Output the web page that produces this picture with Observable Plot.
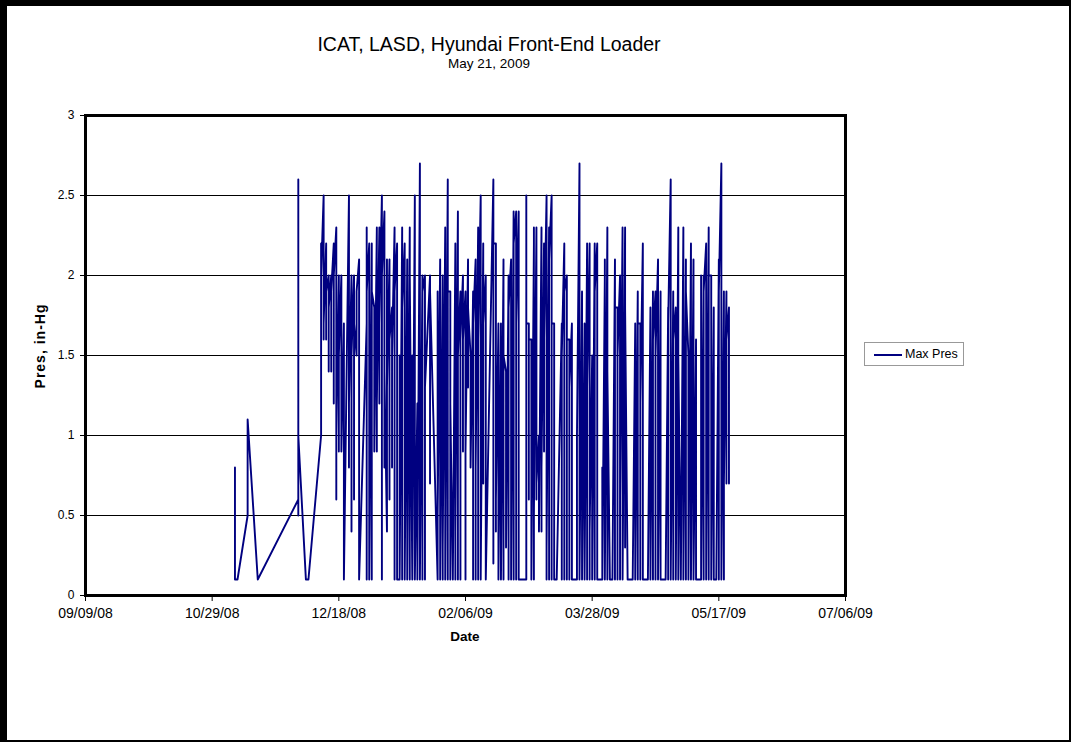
<!DOCTYPE html>
<html><head><meta charset="utf-8">
<script src="https://cdn.jsdelivr.net/npm/d3@7"></script>
<script src="https://cdn.jsdelivr.net/npm/@observablehq/plot@0.6"></script>
<style>
body{margin:0;background:#fff;font-family:"Liberation Sans",Arial,sans-serif;color:#000;}
#wrap{position:relative;width:1073px;height:742px;overflow:hidden;}
#border{position:absolute;left:0;top:0;width:1071px;height:742px;box-sizing:border-box;border-top:6px solid #000;border-left:7px solid #000;border-right:2px solid #000;border-bottom:2px solid #000;pointer-events:none;}
#chart{position:absolute;left:0;top:0;}
.t{position:absolute;white-space:nowrap;}
#title{left:0;width:978px;top:33px;text-align:center;font-size:19.5px;}
#sub{left:0;width:978px;top:56px;text-align:center;font-size:13.5px;}
#xlab{left:365px;width:200px;top:629px;text-align:center;font-size:13.5px;font-weight:bold;}
#ylab{left:40px;top:346px;font-size:14px;font-weight:bold;letter-spacing:1px;transform:translate(-50%,-50%) rotate(-90deg);}
#legend{position:absolute;left:864px;top:342px;width:98px;height:22px;border:1px solid #999;background:#fff;}
#legend .ln{position:absolute;left:9px;top:11px;width:28px;height:0;border-top:2px solid #000080;}
#legend .lt{position:absolute;left:40px;top:4px;font-size:12.5px;}
</style>
</head><body>
<div id="wrap">
  <div id="chart"></div>
  <div class="t" id="title">ICAT, LASD, Hyundai Front-End Loader</div>
  <div class="t" id="sub">May 21, 2009</div>
  <div class="t" id="xlab">Date</div>
  <div class="t" id="ylab">Pres, in-Hg</div>
  <div id="legend"><div class="ln"></div><div class="lt">Max Pres</div></div>
  <div id="border"></div>
</div>
<script>
// Readings per date (several readings a day, in order), in-Hg
const nov08 = [
  ["11/07/08",[0.2,0.8,0.1]], ["11/08/08",[0.1]], ["11/12/08",[0.5,1.1]], ["11/16/08",[0.1]]
];
const dec08 = [
  ["12/02/08",[0.6,2.6,0.5,2.2,1.0]], ["12/05/08",[0.1]], ["12/06/08",[0.1]],
  ["12/11/08",[1.0,2.2,1.3,2.0]], ["12/12/08",[2.5,1.6,2.2,1.7]], ["12/13/08",[2.2,1.6,1.9]],
  ["12/14/08",[2.0,1.4,1.8]], ["12/15/08",[2.0,1.4,1.9]], ["12/16/08",[2.2,1.2,2.0]],
  ["12/17/08",[2.3,0.6,2.0,1.0]], ["12/18/08",[2.0,0.9,1.5]], ["12/19/08",[2.0,1.1,1.7,0.9]],
  ["12/20/08",[1.7,0.8,0.1]], ["12/22/08",[2.5,0.8,2.0,1.2]], ["12/23/08",[2.0,0.4,1.8,1.5]],
  ["12/24/08",[2.0,0.6,1.7]], ["12/25/08",[1.5,1.9]], ["12/26/08",[2.1,0.1]],
  ["12/29/08",[1.7,2.3,0.1,1.9]], ["12/30/08",[2.2,1.3,2.1,0.1]], ["12/31/08",[2.2,0.1,1.9]]
];
const jan09 = [
  ["01/01/09",[1.8,0.9]], ["01/02/09",[2.3,0.9,2.3,1.2]], ["01/03/09",[2.3,1.2,2.2,1.7]],
  ["01/04/09",[2.5,0.1,2.0]], ["01/05/09",[2.4,0.8,2.1,1.4]], ["01/06/09",[0.4,2.1,1.3]],
  ["01/07/09",[2.1,0.6,1.6]], ["01/08/09",[1.8,0.8,1.5]], ["01/09/09",[2.3,0.1,1.9]],
  ["01/10/09",[2.2,0.1,2.0,0.1]], ["01/11/09",[0.1,1.5,0.1]], ["01/12/09",[2.3,0.1,1.8]],
  ["01/13/09",[2.2,0.1,2.0,0.1]], ["01/14/09",[2.1,0.1,1.7,0.1]], ["01/15/09",[2.3,0.1,2.0]],
  ["01/16/09",[0.1,1.5,0.1]], ["01/17/09",[2.5,0.1,2.3,0.1]], ["01/18/09",[1.2,0.1]],
  ["01/19/09",[2.7,0.1,2.0,0.1]], ["01/20/09",[2.0,0.1,1.9]], ["01/21/09",[2.0,0.1,1.3]],
  ["01/23/09",[2.0,0.7,1.9]], ["01/26/09",[0.1,1.9,0.1,1.9,0.5]], ["01/27/09",[2.1,0.1,1.9,0.1]],
  ["01/28/09",[2.0,0.1,1.9,0.3]], ["01/29/09",[2.3,0.1,2.0,0.1]], ["01/30/09",[2.6,0.1,1.9]],
  ["01/31/09",[1.9,0.1,1.2]]
];
const feb09 = [
  ["02/01/09",[0.1]], ["02/02/09",[2.2,0.1,1.9,0.4]], ["02/03/09",[2.4,0.1,1.5]],
  ["02/04/09",[1.9,0.1,1.6]], ["02/05/09",[2.0,0.9,1.6]], ["02/06/09",[1.9,0.1,1.7,0.9]],
  ["02/07/09",[2.1,1.3,1.8]], ["02/08/09",[1.5,0.8]], ["02/09/09",[1.9,0.1,1.7]],
  ["02/10/09",[2.1,0.1,1.9,0.8]], ["02/11/09",[2.3,0.1,1.6]], ["02/12/09",[2.5,0.1,2.0,0.1]],
  ["02/13/09",[2.2,0.7,1.7]], ["02/14/09",[2.0,0.1]], ["02/17/09",[2.6,0.7,1.6,0.2,2.2]],
  ["02/18/09",[2.2,0.4,2.1,0.6]], ["02/19/09",[1.7,0.1,1.6,0.1]], ["02/20/09",[1.7,0.1]],
  ["02/21/09",[2.1,0.1,1.5]], ["02/22/09",[1.4,0.3]], ["02/23/09",[2.0,0.1,1.8]],
  ["02/24/09",[2.1,0.1,1.9,0.1]], ["02/25/09",[2.4,0.1,2.2]], ["02/26/09",[2.4,0.1,1.7]],
  ["02/27/09",[2.4,0.1,0.1]], ["02/28/09",[0.1]]
];
const mar09 = [
  ["03/01/09",[0.1]], ["03/02/09",[0.1,2.5,0.1,1.7]], ["03/03/09",[1.7,0.6,1.6]],
  ["03/04/09",[1.6,0.2,1.2,0.1]], ["03/05/09",[2.2,0.1,2.3,0.5]], ["03/06/09",[2.3,0.6,1.7,0.7]],
  ["03/07/09",[1.0,0.4]], ["03/08/09",[2.3,0.4,2.0,0.8]], ["03/09/09",[2.2,0.9,1.6]],
  ["03/10/09",[2.5,0.1,2.0,0.3]], ["03/11/09",[2.3,0.1,2.1]], ["03/12/09",[2.5,0.1,2.4,1.7]],
  ["03/13/09",[1.7,0.1,1.2,0.1]], ["03/14/09",[0.1]], ["03/16/09",[1.7,0.1,1.5]],
  ["03/17/09",[2.2,0.1,1.9]], ["03/18/09",[2.0,0.1,1.6]], ["03/19/09",[1.6,0.1,1.3]],
  ["03/20/09",[1.7,0.1]], ["03/21/09",[0.1]], ["03/22/09",[0.1,1.0]],
  ["03/23/09",[2.7,0.1,2.3,0.1]], ["03/24/09",[1.9,0.1,1.7,0.1]], ["03/25/09",[1.7,0.1]],
  ["03/26/09",[2.2,0.1,1.3]], ["03/27/09",[2.2,0.1,2.2,0.4]], ["03/28/09",[1.5,0.1]],
  ["03/29/09",[2.2,0.1,1.9]], ["03/30/09",[2.2,0.1,2.0,0.1]], ["03/31/09",[0.1]]
];
const apr09 = [
  ["04/01/09",[0.1,0.8,0.1]], ["04/02/09",[2.0,0.1,2.1,0.1]], ["04/03/09",[2.3,0.1,1.4]],
  ["04/04/09",[0.1]], ["04/05/09",[0.1]], ["04/06/09",[2.1,0.1,1.8]],
  ["04/07/09",[1.8,0.1,1.5]], ["04/08/09",[2.0,0.1,1.9,0.6]], ["04/09/09",[2.3,0.5,2.0,0.1]],
  ["04/10/09",[2.3,0.3,1.8]], ["04/11/09",[0.1]], ["04/12/09",[0.1]],
  ["04/13/09",[0.1]], ["04/14/09",[1.7,0.1,1.7,0.1]], ["04/15/09",[1.9,0.1,1.7]],
  ["04/16/09",[1.7,0.1,1.2]], ["04/17/09",[2.2,0.1,1.4,0.1]], ["04/18/09",[0.1]],
  ["04/19/09",[0.1]], ["04/20/09",[1.8,0.1,1.8,0.1]], ["04/21/09",[1.9,0.1,1.6]],
  ["04/22/09",[1.9,0.1,1.5]], ["04/23/09",[2.1,0.1,1.9,0.1]], ["04/24/09",[1.9,0.1]],
  ["04/25/09",[0.1]], ["04/26/09",[0.1]], ["04/27/09",[1.8,0.1,1.7]],
  ["04/28/09",[2.6,0.2,1.8,0.1]], ["04/29/09",[1.9,0.1,1.6]], ["04/30/09",[1.8,0.1,1.8,0.1]]
];
const may09 = [
  ["05/01/09",[2.3,0.1,1.5]], ["05/02/09",[0.1]], ["05/03/09",[2.3,0.1,2.2,0.1]],
  ["05/04/09",[2.1,0.1,1.9]], ["05/05/09",[1.5,0.1]], ["05/06/09",[2.2,0.1,2.1,0.1]],
  ["05/07/09",[2.1,0.1,1.9,0.1]], ["05/08/09",[1.6,0.1]], ["05/09/09",[0.1]],
  ["05/10/09",[0.1,2.0,0.1]], ["05/11/09",[2.0,0.1,1.9]], ["05/12/09",[2.2,0.1,1.6,0.1]],
  ["05/13/09",[2.3,0.1,2.0]], ["05/14/09",[2.0,0.1,1.8,0.1]], ["05/15/09",[1.8,0.1]],
  ["05/16/09",[0.1]], ["05/17/09",[2.1,0.1,1.9]], ["05/18/09",[2.7,0.1,2.1,0.1]],
  ["05/19/09",[1.9,0.1,1.6,0.7]], ["05/20/09",[1.9,0.7,1.6]], ["05/21/09",[1.8,0.7]]
];
const xTickLabels = ["09/09/08","10/29/08","12/18/08","02/06/09","03/28/09","05/17/09","07/06/09"];
const yTicks = [0, 0.5, 1, 1.5, 2, 2.5, 3];
const gridValues = [0.5, 1, 1.5, 2, 2.5];

const parse = d3.utcParse("%m/%d/%y");
const fmt = d3.utcFormat("%m/%d/%y");
const rows = [];
for (const month of [nov08, dec08, jan09, feb09, mar09, apr09, may09]) {
  for (const [d, vals] of month) {
    const date = parse(d);
    for (const v of vals) rows.push({date, value: v});
  }
}
const xTicks = xTickLabels.map(parse);

const chart = Plot.plot({
  width: 1073, height: 742,
  marginLeft: 85, marginRight: 228, marginTop: 115, marginBottom: 147,
  x: {type: "utc", domain: [xTicks[0], xTicks[xTicks.length - 1]]},
  y: {domain: [0, 3]},
  style: {fontFamily: "'Liberation Sans', Arial, sans-serif", fontSize: "12px", color: "#000", background: "transparent"},
  marks: [
    Plot.ruleY(gridValues, {stroke: "#000", strokeWidth: 1}),
    Plot.line(rows, {x: "date", y: "value", stroke: "#000080", strokeWidth: 1.9}),
    Plot.frame({stroke: "#000", strokeWidth: 3}),
    Plot.axisX({ticks: xTicks, tickFormat: fmt, tickSize: 6, tickPadding: 7, label: null, fontSize: 14}),
    Plot.axisY({ticks: yTicks, tickSize: 5, tickPadding: 6, label: null, tickFormat: d => String(d), fontSize: 12})
  ]
});
document.getElementById("chart").appendChild(chart);
</script>
</body></html>
